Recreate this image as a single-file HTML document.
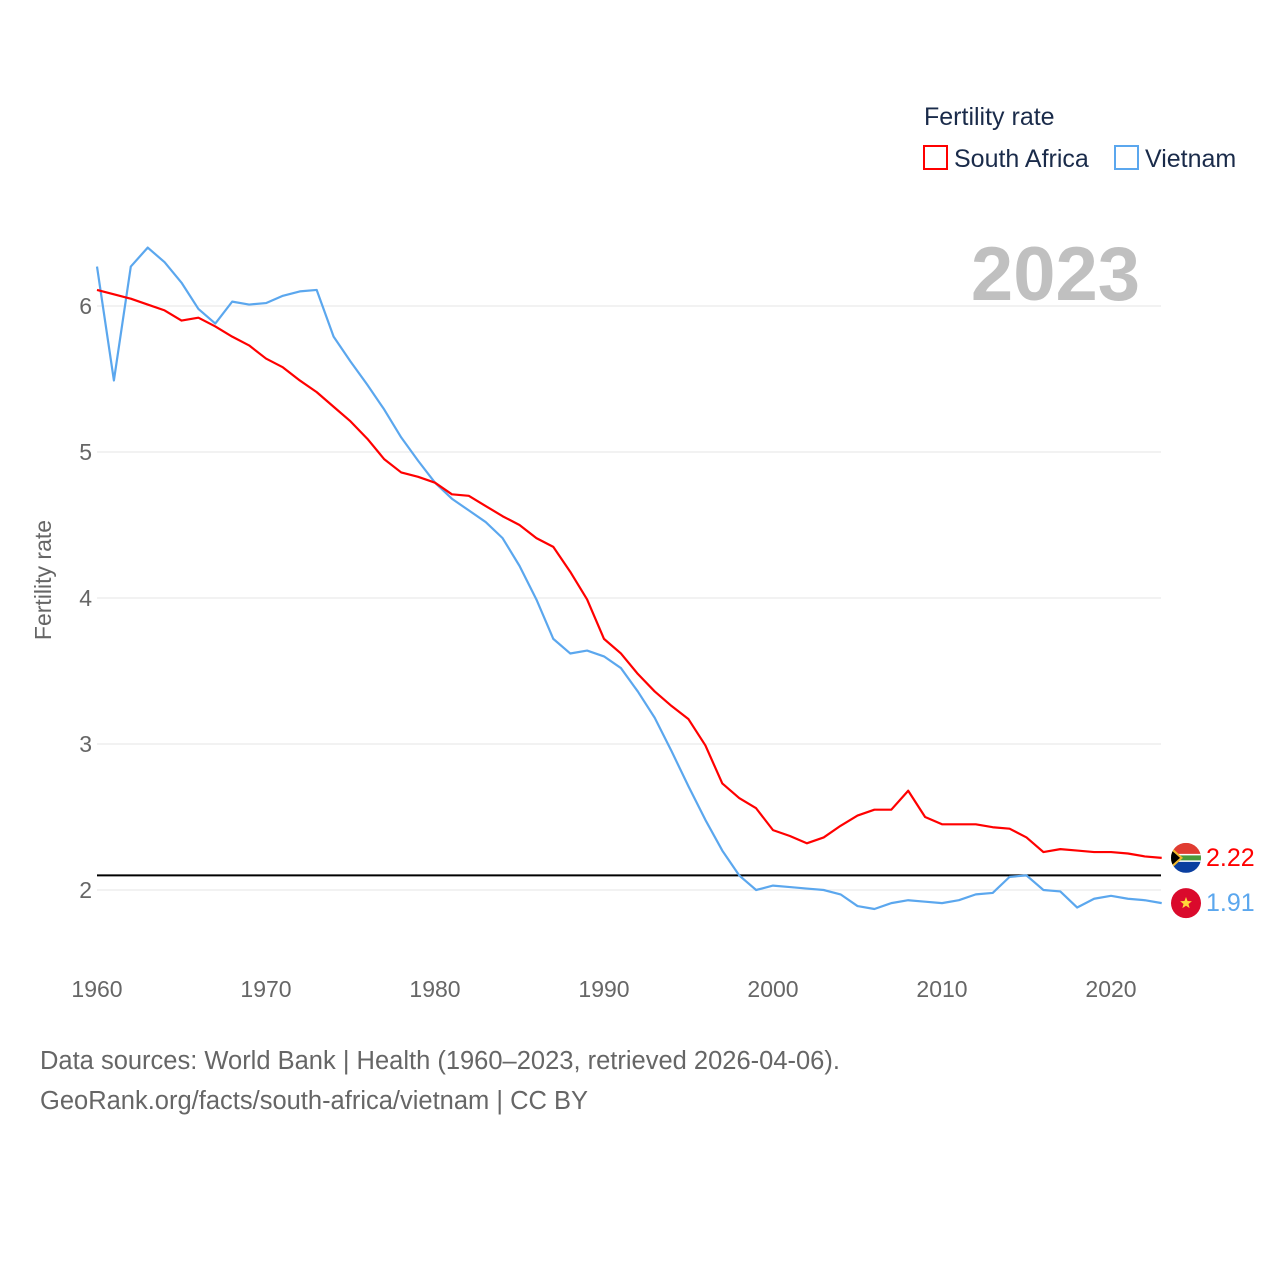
<!DOCTYPE html>
<html><head><meta charset="utf-8"><style>
body{margin:0;background:#fff;font-family:"Liberation Sans",sans-serif}
svg text{font-family:"Liberation Sans",sans-serif}
</style></head><body>
<svg id="chart" width="1280" height="1280" xmlns="http://www.w3.org/2000/svg">
<text x="924" y="125" font-size="25" fill="#1a2b4a">Fertility rate</text>
<g><rect x="924" y="146" width="23" height="23" fill="none" stroke="#ff0000" stroke-width="2"/><text x="954" y="167" font-size="25" fill="#1a2b4a">South Africa</text></g>
<g><rect x="1115" y="146" width="23" height="23" fill="none" stroke="#5ba7ee" stroke-width="2"/><text x="1145" y="167" font-size="25" fill="#1a2b4a">Vietnam</text></g>
<text x="1140" y="300" font-size="76" font-weight="bold" fill="#c0c0c0" text-anchor="end">2023</text>
<text transform="translate(51,580) rotate(-90)" font-size="23" fill="#666" text-anchor="middle">Fertility rate</text>
<g id="grid"></g><g id="series"></g>
<text x="40" y="1069" font-size="25.5" fill="#666">Data sources: World Bank | Health (1960–2023, retrieved 2026-04-06).</text>
<text x="40" y="1109" font-size="25.5" fill="#666">GeoRank.org/facts/south-africa/vietnam | CC BY</text>
</svg>
<script>
const startYear = 1960;
const southAfrica = [6.11,6.08,6.05,6.01,5.97,5.90,5.92,5.86,5.79,5.73,5.64,5.58,5.49,5.41,5.31,5.21,5.09,4.95,4.86,4.83,4.79,4.71,4.70,4.63,4.56,4.50,4.41,4.35,4.18,3.99,3.72,3.62,3.48,3.36,3.26,3.17,2.99,2.73,2.63,2.56,2.41,2.37,2.32,2.36,2.44,2.51,2.55,2.55,2.68,2.50,2.45,2.45,2.45,2.43,2.42,2.36,2.26,2.28,2.27,2.26,2.26,2.25,2.23,2.22];
const vietnam = [6.27,5.49,6.27,6.40,6.30,6.16,5.98,5.88,6.03,6.01,6.02,6.07,6.10,6.11,5.79,5.62,5.46,5.29,5.10,4.94,4.79,4.68,4.60,4.52,4.41,4.22,3.99,3.72,3.62,3.64,3.60,3.52,3.36,3.18,2.95,2.71,2.48,2.27,2.10,2.00,2.03,2.02,2.01,2.00,1.97,1.89,1.87,1.91,1.93,1.92,1.91,1.93,1.97,1.98,2.09,2.10,2.00,1.99,1.88,1.94,1.96,1.94,1.93,1.91];
const yTicks = [2,3,4,5,6];
const xTicks = [1960,1970,1980,1990,2000,2010,2020];
const replacementRate = 2.1;
const NS="http://www.w3.org/2000/svg";
const x = yr => 97 + (yr-1960)*(1111-97)/60;
const y = v => 890 - (v-2)*146;
const grid=document.getElementById('grid'), ser=document.getElementById('series');
function mk(tag,attrs,parent){const e=document.createElementNS(NS,tag);for(const k in attrs)e.setAttribute(k,attrs[k]);parent.appendChild(e);return e;}
yTicks.forEach(t=>{
  const l=mk('line',{x1:97,x2:1161,y1:y(t),y2:y(t),stroke:'#e6e6e6','stroke-width':1},grid);
  
  
  const tx=mk('text',{x:92,y:y(t)+8,'font-size':23,fill:'#666','text-anchor':'end'},grid);tx.textContent=t;
  
  
});
xTicks.forEach(t=>{
  const tx=mk('text',{x:x(t),y:997,'font-size':23,fill:'#666','text-anchor':'middle'},grid);tx.textContent=t;
  
  
});
const rl=mk('line',{x1:97,x2:1161,y1:y(replacementRate),y2:y(replacementRate),stroke:'#000','stroke-width':2},ser);


function line(vals,color,name){
  const p=mk('polyline',{points:vals.map((v,i)=>x(startYear+i)+','+y(v)).join(' '),fill:'none',stroke:color,'stroke-width':2.2,'stroke-linejoin':'round'},ser);
  
  
}
line(vietnam,'#5ba7ee','vietnam-line');
line(southAfrica,'#ff0000','south-africa-line');
const saV=southAfrica[southAfrica.length-1], vnV=vietnam[vietnam.length-1];
const fx=1186;
const fsa=mk('g',{},ser);


const cy=y(saV);
const cp=mk('clipPath',{id:'cs'},fsa);
mk('circle',{cx:fx,cy:cy,r:15},cp);
const gsa=mk('g',{'clip-path':'url(#cs)'},fsa);
mk('rect',{x:fx-15,y:cy-15,width:30,height:15,fill:'#e03c31'},gsa);
mk('rect',{x:fx-15,y:cy,width:30,height:15,fill:'#0a3fa0'},gsa);
mk('rect',{x:fx-15,y:cy-4,width:30,height:8,fill:'#fff'},gsa);
mk('rect',{x:fx-15,y:cy-2.5,width:30,height:5,fill:'#4a9a3a'},gsa);
mk('polygon',{points:`${fx-15},${cy-11} ${fx-3},${cy} ${fx-15},${cy+11}`,fill:'#f2b82a'},gsa);
mk('polygon',{points:`${fx-15},${cy-8} ${fx-6},${cy} ${fx-15},${cy+8}`,fill:'#000'},gsa);
const t1=mk('text',{x:1206,y:cy+8,'font-size':25,fill:'#ff0000'},ser);t1.textContent=saV.toFixed(2);


const vy=y(vnV);
const fvn=mk('g',{},ser);


mk('circle',{cx:fx,cy:vy,r:15,fill:'#da0a2c'},fvn);
const st=[];for(let i=0;i<10;i++){const r=i%2?2.6:6.2,a=-Math.PI/2+i*Math.PI/5;st.push((fx+r*Math.cos(a))+','+(vy+r*Math.sin(a)));}
mk('polygon',{points:st.join(' '),fill:'#ffd83a'},fvn);
const t2=mk('text',{x:1206,y:vy+8,'font-size':25,fill:'#5ba7ee'},ser);t2.textContent=vnV.toFixed(2);


</script>
</body></html>
